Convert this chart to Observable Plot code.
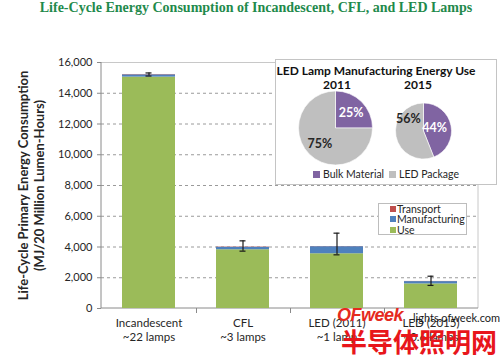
<!DOCTYPE html>
<html><head><meta charset="utf-8">
<script src="https://cdn.jsdelivr.net/npm/d3@7"></script>
<script src="https://cdn.jsdelivr.net/npm/@observablehq/plot@0.6"></script>
<style>
body{margin:0;background:#fff;font-family:Lato,sans-serif;}
#wrap{position:relative;width:500px;height:358px;overflow:hidden;background:#fff;}
#title{height:40px;line-height:42px;text-align:center;font:bold 14px "Liberation Serif",serif;color:#1f8a4c;padding-left:12px;box-sizing:border-box;white-space:nowrap;}
#legend{position:absolute;left:378px;top:203px;width:89px;height:32px;box-sizing:border-box;border:1px solid #bdbdbd;background:#fff;font-size:10.5px;color:#262626;padding-top:0px;}
#legend .row{position:relative;height:10.3px;line-height:10.3px;padding-left:18px;white-space:nowrap;}
#legend .sw{position:absolute;left:11px;top:2px;width:6px;height:6px;}
#inset{position:absolute;left:275px;top:59px;width:222px;height:126px;box-sizing:border-box;border:1px solid #c4c4c4;background:#fff;}
#inset .t{position:absolute;font-weight:bold;font-size:12px;color:#111;white-space:nowrap;transform:translate(-50%,-50%);}
#inset .lg{position:absolute;top:108px;font-size:10.5px;color:#262626;white-space:nowrap;line-height:12px;}
#inset .lg i{display:inline-block;width:7px;height:7px;margin-right:3px;vertical-align:0px;}
.wm{position:absolute;white-space:nowrap;}
</style></head>
<body><div id="wrap">
<div id="title">Life-Cycle Energy Consumption of Incandescent, CFL, and LED Lamps</div>
<div id="chart"></div>
<div id="legend"></div>
<div id="inset"></div>
<div class="wm" style="left:337px;top:305px;font:italic bold 18px 'Liberation Sans',sans-serif;color:#e52a1e;letter-spacing:-0.5px;">OFweek</div>
<div class="wm" style="left:413px;top:311px;font-size:11px;color:#1a1a1a;">lights.ofweek.com</div>
<div class="wm" style="left:341px;top:322px;font:bold 26px 'Noto Sans CJK SC',sans-serif;color:#e8161b;letter-spacing:0px;">半导体照明网</div>
</div>
<script>
const categories = ["Incandescent", "CFL", "LED (2011)", "LED (2015)"];
const lampCounts = ["~22 lamps", "~3 lamps", "~1 lamp", "~0.6 lamps"];
const useEnergy = [15050, 3820, 3560, 1600];
const manufacturingEnergy = [150, 160, 460, 150];
const transportEnergy = [20, 20, 10, 10];
const errorLow = [15120, 3730, 3490, 1500];
const errorHigh = [15320, 4400, 4900, 2100];
const yTicks = [0, 2000, 4000, 6000, 8000, 10000, 12000, 14000, 16000];
const gridTicks = [2000, 4000, 6000, 8000, 10000, 12000, 14000];
const stackParts = ["Use", "Manufacturing", "Transport"];
const partColors = ["#9bbb59", "#4f81bd", "#c0504d"];
const legendOrder = ["Transport", "Manufacturing", "Use"];
const yLabel = "Life-Cycle Primary Energy Consumption\n(MJ/20 Million Lumen-Hours)";

const insetTitle = "LED Lamp Manufacturing Energy Use";
const pieYears = ["2011", "2015"];
const bulkMaterialShare = [25, 44];
const ledPackageShare = [75, 56];
const pieParts = ["Bulk Material", "LED Package"];
const pieColors = ["#8064a2", "#bfbfbf"];

const rows = [];
categories.forEach((c, i) => {
  rows.push({cat: c, part: "Use", value: useEnergy[i]});
  rows.push({cat: c, part: "Manufacturing", value: manufacturingEnergy[i]});
  rows.push({cat: c, part: "Transport", value: transportEnergy[i]});
});
const errRows = categories.map((c, i) => ({cat: c, low: errorLow[i], high: errorHigh[i]}));

const borders = (index, scales, values, dims) => {
  const g = d3.create("svg:g");
  const x0 = dims.marginLeft, x1 = dims.width - dims.marginRight;
  const y0 = dims.marginTop, y1 = dims.height - dims.marginBottom;
  g.append("line").attr("x1", x1).attr("x2", x1).attr("y1", y0).attr("y2", y1).attr("stroke", "#c8c8c8");
  g.append("line").attr("x1", x0).attr("x2", x0).attr("y1", y0).attr("y2", y1).attr("stroke", "#8a8a8a");
  g.append("line").attr("x1", x0).attr("x2", x1).attr("y1", y1).attr("y2", y1).attr("stroke", "#8a8a8a");
  const x = scales.x;
  const bw = typeof x.bandwidth === "function" ? x.bandwidth() : 53;
  const step = typeof x.step === "function" ? x.step() : 94.25;
  categories.slice(0, -1).forEach(c => {
    const bx = Math.round(x(c) + bw / 2 + step / 2) + 0.5;
    g.append("line").attr("x1", bx).attr("x2", bx).attr("y1", y1).attr("y2", y1 + 5).attr("stroke", "#8a8a8a");
  });
  return g.node();
};

const chart = Plot.plot({
  width: 500, height: 318,
  marginTop: 22, marginRight: 22, marginBottom: 50, marginLeft: 101,
  style: {fontFamily: "Lato, sans-serif", fontSize: "11px", color: "#262626", background: "transparent"},
  x: {domain: categories, paddingInner: 0.44, paddingOuter: 0.22, axis: null},
  y: {domain: [0, 16000], axis: null},
  color: {domain: stackParts, range: partColors},
  marks: [
    Plot.ruleY(gridTicks, {stroke: "#9a9a9a", strokeDasharray: "3,3"}),
    Plot.ruleY([16000], {stroke: "#c8c8c8"}),
    borders,
    Plot.barY(rows, {x: "cat", y: "value", fill: "part"}),
    Plot.ruleX(errRows, {x: "cat", y1: "low", y2: "high", stroke: "#1a1a1a", strokeWidth: 1.2}),
    Plot.tickY(errRows, {x: "cat", y: "low", insetLeft: 23.5, insetRight: 23.5, stroke: "#1a1a1a", strokeWidth: 1.2}),
    Plot.tickY(errRows, {x: "cat", y: "high", insetLeft: 23.5, insetRight: 23.5, stroke: "#1a1a1a", strokeWidth: 1.2}),
    Plot.axisY({ticks: yTicks, tickFormat: d3.format(","), tickSize: 4, tickPadding: 5, stroke: "#8a8a8a", fontSize: 11}),
    Plot.text(categories, {x: d => d, frameAnchor: "bottom", dy: 9, lineAnchor: "top",
      text: (d, i) => d + "\n" + lampCounts[i], fontSize: 11.5, lineHeight: 1.2, fill: "#262626"}),
    Plot.text([yLabel], {frameAnchor: "left", textAnchor: "middle", rotate: -90, dx: -71, text: d => d,
      fontWeight: "bold", fontSize: 13, lineHeight: 1.25, fill: "#262626"})
  ]
});
document.getElementById("chart").appendChild(chart);

// series legend
const leg = document.getElementById("legend");
legendOrder.forEach(p => {
  const r = document.createElement("div");
  r.className = "row";
  r.innerHTML = `<span class="sw" style="background:${partColors[stackParts.indexOf(p)]}"></span>${p}`;
  leg.appendChild(r);
});

// pie inset
const inset = document.getElementById("inset");
const pieCenters = [[59.5, 68], [147.5, 71]];
const pieRadii = [37, 28];
const labelRadius = [0.6, 0.55];
const pies = (index, scales, values, dims) => {
  const g = d3.create("svg:g");
  const color = d3.scaleOrdinal(pieParts, pieColors);
  pieYears.forEach((yr, k) => {
    const shares = [bulkMaterialShare[k], ledPackageShare[k]];
    const arcs = d3.pie().sort(null)(shares);
    const r = pieRadii[k];
    const arc = d3.arc().innerRadius(0).outerRadius(r);
    const lab = d3.arc().innerRadius(r * labelRadius[k]).outerRadius(r * labelRadius[k]);
    const pg = g.append("g").attr("transform", `translate(${pieCenters[k][0]},${pieCenters[k][1]})`);
    pg.selectAll("path").data(arcs).join("path")
      .attr("d", arc).attr("fill", (d, i) => color(pieParts[i])).attr("stroke", "#fff").attr("stroke-width", 0.6);
    pg.selectAll("text").data(arcs).join("text")
      .attr("transform", (d, i) => {
        let [cx, cy] = lab.centroid(d);
        if (k === 1 && i === 1) { cy -= 15; }
        if (k === 1 && i === 0) { cx -= 4; }
        return `translate(${cx},${cy})`;
      })
      .attr("text-anchor", "middle").attr("dy", "0.35em")
      .attr("font-family", "Lato, sans-serif").attr("font-weight", "bold").attr("font-size", 12.5)
      .attr("fill", (d, i) => i === 0 ? "#ffffff" : "#262626")
      .text(d => d.data + "%");
  });
  return g.node();
};
const piePlot = Plot.plot({width: 220, height: 124, margin: 0, style: {background: "transparent"}, marks: [pies]});
piePlot.style.position = "absolute";
piePlot.style.left = "0px";
piePlot.style.top = "0px";
inset.appendChild(piePlot);
const addT = (txt, x, y) => {
  const d = document.createElement("div");
  d.className = "t"; d.textContent = txt;
  d.style.left = x + "px"; d.style.top = y + "px";
  inset.appendChild(d);
};
addT(insetTitle, 100, 10);
addT(pieYears[0], 61, 24);
addT(pieYears[1], 142, 24);
const lgx = [37, 113];
pieParts.forEach((p, i) => {
  const d = document.createElement("div");
  d.className = "lg";
  d.style.left = lgx[i] + "px";
  d.innerHTML = `<i style="background:${pieColors[i]}"></i>${p}`;
  inset.appendChild(d);
});
</script>
</body></html>
